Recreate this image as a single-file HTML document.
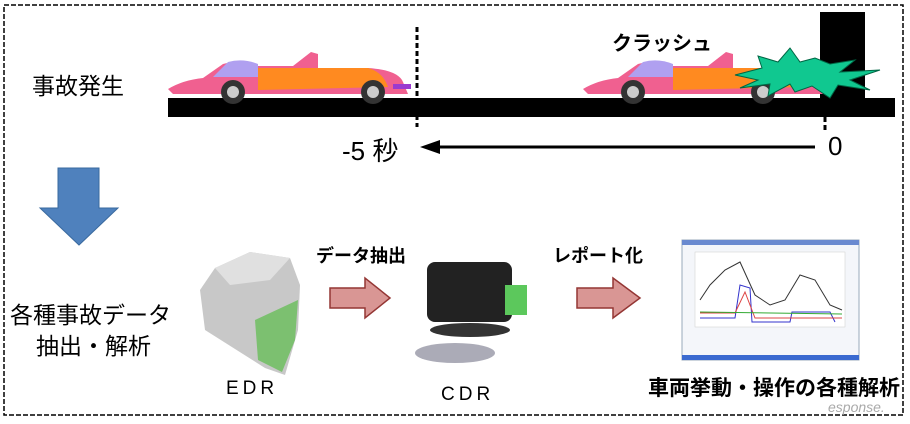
<!DOCTYPE html>
<html><head><meta charset="utf-8"><style>
body{margin:0;background:#fff;width:910px;height:424px;overflow:hidden;position:relative;font-family:"Liberation Sans","Noto Sans CJK JP",sans-serif}
.t{position:absolute;white-space:nowrap;color:#000}
</style></head><body>
<svg width="910" height="424" style="position:absolute;left:0;top:0">
<rect x="4" y="5" width="899" height="410" fill="none" stroke="#000" stroke-width="1.5" stroke-dasharray="5,2"/>
<rect x="168" y="98" width="727" height="19" fill="#000"/>
<rect x="820" y="12" width="45" height="88" fill="#000"/>
<line x1="417" y1="27" x2="417" y2="127" stroke="#000" stroke-width="3" stroke-dasharray="5,3"/>
<line x1="825" y1="117" x2="825" y2="131" stroke="#000" stroke-width="3" stroke-dasharray="5,3"/>
<line x1="435" y1="147" x2="815" y2="147" stroke="#000" stroke-width="3"/>
<polygon points="420,147 440,140 440,154" fill="#000"/>
<g transform="translate(163,42)">
<path d="M5,47 Q20,38 40,36 L60,22 Q75,18 95,24 L130,24 L148,10 L155,12 L155,26 L205,26 Q235,28 240,40 L245,52 L10,52 Z" fill="#f06090"/>
<path d="M50,35 L65,20 Q80,16 95,22 L95,35 Z" fill="#b0a0f0"/>
<path d="M95,26 L205,26 Q220,30 225,45 L95,48 Z" fill="#ff8a20"/>
<circle cx="70" cy="50" r="12" fill="#333"/><circle cx="70" cy="50" r="6" fill="#ccc"/>
<circle cx="210" cy="50" r="12" fill="#333"/><circle cx="210" cy="50" r="6" fill="#ccc"/>
<rect x="230" y="42" width="18" height="5" fill="#9a3ad0"/>
</g>
<g transform="translate(578,42)">
<path d="M5,47 Q20,38 40,36 L60,22 Q75,18 95,24 L130,24 L148,10 L155,12 L155,26 L205,26 Q235,28 240,40 L245,52 L10,52 Z" fill="#f06090"/>
<path d="M50,35 L65,20 Q80,16 95,22 L95,35 Z" fill="#b0a0f0"/>
<path d="M95,26 L205,26 Q220,30 225,45 L95,48 Z" fill="#ff8a20"/>
<circle cx="55" cy="50" r="12" fill="#333"/><circle cx="55" cy="50" r="6" fill="#ccc"/>
<circle cx="185" cy="50" r="12" fill="#333"/><circle cx="185" cy="50" r="6" fill="#ccc"/>
</g>
<polygon points="735,75 762,68 758,56 778,62 790,48 800,62 815,58 830,64 855,60 840,72 880,70 850,80 870,90 838,85 830,98 812,86 795,92 790,84 768,96 770,84 740,88 758,80" fill="#10c890" stroke="#064" stroke-width="1"/>
<polygon points="58,168 99,168 99,208 118,208 79,245 40,208 58,208" fill="#4f81bd" stroke="#3a6a9f"/>
<polygon points="330,288 365,288 365,278 390,298 365,318 365,308 330,308" fill="#d99694" stroke="#943634" stroke-width="1.5"/>
<polygon points="577,288 613,288 613,278 640,298 613,318 613,308 577,308" fill="#d99694" stroke="#943634" stroke-width="1.5"/>
<polygon points="215,268 250,252 290,258 300,285 298,330 285,375 265,368 205,330 200,290" fill="#c8c8c8"/>
<polygon points="255,320 298,300 295,340 282,372 258,360" fill="#7cc070"/>
<polygon points="215,268 250,252 290,258 270,280 230,285" fill="#e0e0e0"/>
<rect x="427" y="262" width="85" height="60" rx="8" fill="#222"/>
<rect x="505" y="285" width="22" height="30" fill="#5cc85c"/>
<ellipse cx="470" cy="330" rx="40" ry="7" fill="#333"/>
<ellipse cx="455" cy="353" rx="40" ry="10" fill="#889" opacity="0.7"/>
<rect x="682" y="240" width="177" height="120" fill="#f4f6fa" stroke="#9ab"/>
<rect x="682" y="240" width="177" height="5" fill="#6a8ad0"/>
<rect x="682" y="355" width="177" height="5" fill="#3a6ad0"/>
<rect x="695" y="252" width="150" height="75" fill="#fff" stroke="#ccc" stroke-width="0.5"/>
<polyline points="700,300 710,285 725,270 740,262 755,295 770,305 785,300 800,275 815,280 830,305 842,310" fill="none" stroke="#333"/>
<polyline points="700,318 735,318 740,285 750,288 752,322 790,322 792,312 830,312 835,322" fill="none" stroke="#33c"/>
<polyline points="700,313 735,313 745,292 755,318 842,318" fill="none" stroke="#d44"/>
<polyline points="700,312 842,314" fill="none" stroke="#3a3"/>
<text x="828" y="412" font-family="Liberation Sans" font-size="14" fill="#aaa" font-style="italic">esponse.</text>
</svg>
<div class="t" style="left:32px;top:67px;font-size:23px">事故発生</div>
<div class="t" style="left:612px;top:27px;font-size:20px;font-weight:bold">クラッシュ</div>
<div class="t" style="left:342px;top:131px;font-size:26px">-5 秒</div>
<div class="t" style="left:828px;top:131px;font-size:26px">0</div>
<div class="t" style="left:10px;top:296px;font-size:23px">各種事故データ</div>
<div class="t" style="left:36px;top:327px;font-size:23px">抽出・解析</div>
<div class="t" style="left:316px;top:242px;font-size:18px;font-weight:bold">データ抽出</div>
<div class="t" style="left:553px;top:242px;font-size:18px;font-weight:bold">レポート化</div>
<div class="t" style="left:226px;top:378px;font-size:19px;letter-spacing:4px">EDR</div>
<div class="t" style="left:441px;top:384px;font-size:19px;letter-spacing:4px">CDR</div>
<div class="t" style="left:648px;top:372px;font-size:21px;font-weight:bold">車両挙動・操作の各種解析</div>
</body></html>
